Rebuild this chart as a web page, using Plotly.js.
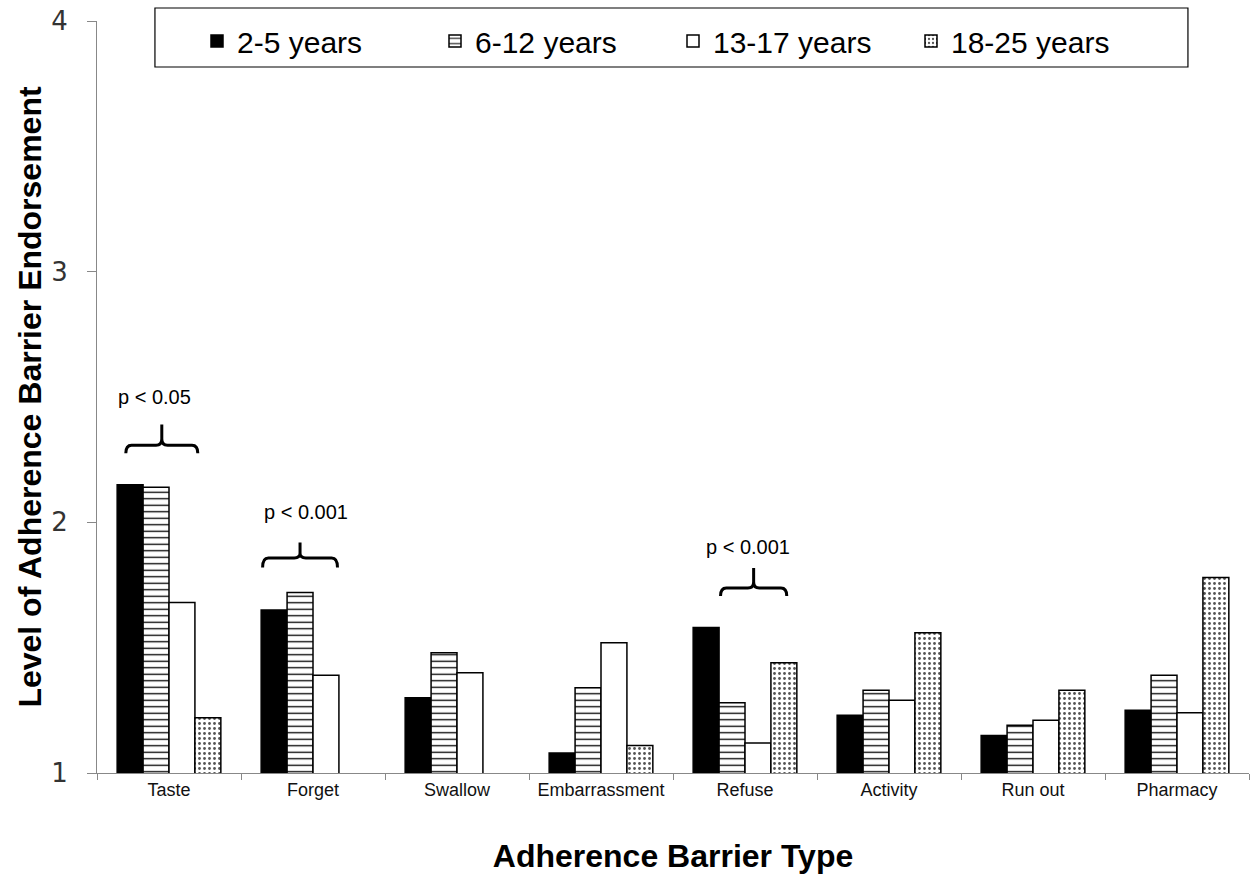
<!DOCTYPE html>
<html>
<head>
<meta charset="utf-8">
<script src="https://cdn.plot.ly/plotly-3.0.1.min.js"></script>
<style>html,body{margin:0;padding:0;background:#fff;}#chart{width:1258px;height:878px;}</style>
</head>
<body>
<div id="chart"></div>
<script>
const categories = ["Taste", "Forget", "Swallow", "Embarrassment", "Refuse", "Activity", "Run out", "Pharmacy"];
const seriesNames = ["2-5 years", "6-12 years", "13-17 years", "18-25 years"];
const age2to5   = [2.15, 1.65, 1.30, 1.08, 1.58, 1.23, 1.15, 1.25];
const age6to12  = [2.14, 1.72, 1.48, 1.34, 1.28, 1.33, 1.19, 1.39];
const age13to17 = [1.68, 1.39, 1.40, 1.52, 1.12, 1.29, 1.21, 1.24];
const age18to25 = [1.22, null, null, 1.11, 1.44, 1.56, 1.33, 1.78];
const yTickVals = [1, 2, 3, 4];
const pLabels = ["p < 0.05", "p < 0.001", "p < 0.001"];

const outline = {color: "#000", width: 1.5};
const traces = [
  {name: seriesNames[0], x: categories, y: age2to5, type: "bar",
   marker: {color: "#000", line: outline}},
  {name: seriesNames[1], x: categories, y: age6to12, type: "bar",
   marker: {color: "#fff", line: outline, pattern: {shape: "-", fgcolor: "#000", bgcolor: "#fff", size: 6.5, solidity: 0.2}}},
  {name: seriesNames[2], x: categories, y: age13to17, type: "bar",
   marker: {color: "#fff", line: outline}},
  {name: seriesNames[3], x: categories, y: age18to25, type: "bar",
   marker: {color: "#fff", line: outline, pattern: {shape: ".", fgcolor: "#555", bgcolor: "#fff", size: 5, solidity: 0.25}}}
];

// bracket geometry (category offsets and data heights)
const brackets = [
  {cat: 0, xl: -0.30, xr: 0.20, ytop: 2.308, yend: 2.276, yspike: 2.39, ytext: 2.50, xt: -0.10},
  {cat: 1, xl: -0.35, xr: 0.17, ytop: 1.858, yend: 1.82, yspike: 1.92, ytext: 2.04, xt: -0.05},
  {cat: 4, xl: -0.17, xr: 0.29, ytop: 1.738, yend: 1.706, yspike: 1.818, ytext: 1.90, xt: 0.02}
];
const shapes = [];
const annotations = [];
brackets.forEach((b, i) => {
  const L = b.cat + b.xl, R = b.cat + b.xr, C = (L + R) / 2;
  const dx = 0.04, h = (b.yspike - b.ytop) * 0.3;
  const path = `M${L},${b.yend} Q${L},${b.ytop} ${L+dx},${b.ytop} L${C-dx},${b.ytop} Q${C},${b.ytop} ${C},${b.ytop+h} L${C},${b.yspike} ` +
               `M${R},${b.yend} Q${R},${b.ytop} ${R-dx},${b.ytop} L${C+dx},${b.ytop} Q${C},${b.ytop} ${C},${b.ytop+h}`;
  shapes.push({type: "path", xref: "x", yref: "y", path: path, line: {color: "#000", width: 3}});
  annotations.push({xref: "x", yref: "y", x: b.cat + b.xt, y: b.ytext, text: pLabels[i], showarrow: false,
    font: {family: "Liberation Sans, Arial, sans-serif", size: 20, color: "#000"}});
});
// legend box
shapes.push({type: "rect", xref: "paper", yref: "paper", x0: 0.0503, x1: 0.947, y0: 0.9388, y1: 1.0173,
  line: {color: "#000", width: 1.2}, fillcolor: "rgba(0,0,0,0)", layer: "above"});

const layout = {
  width: 1258, height: 878,
  margin: {l: 97, r: 9, t: 21, b: 105},
  paper_bgcolor: "#fff", plot_bgcolor: "#fff",
  barmode: "group", bargap: 0.28, bargroupgap: 0,
  font: {family: "Liberation Sans, Arial, sans-serif", color: "#000"},
  showlegend: true,
  legend: {orientation: "h", x: 0.5, xanchor: "center", y: 1.008, yanchor: "top",
    font: {family: "Liberation Sans, Arial, sans-serif", size: 30, color: "#000"},
    bgcolor: "rgba(0,0,0,0)", borderwidth: 0, traceorder: "normal", itemwidth: 30,
    entrywidth: 193},
  xaxis: {type: "category", showline: true, linecolor: "#888", linewidth: 1,
    ticks: "outside", tickson: "boundaries", ticklen: 6, tickcolor: "#888",
    tickfont: {family: "Liberation Sans, Arial, sans-serif", size: 18, color: "#111"},
    title: {text: "Adherence Barrier Type", standoff: 46,
      font: {family: "Liberation Sans, Arial, sans-serif", size: 32, color: "#000", weight: "bold"}},
    showgrid: false, zeroline: false},
  yaxis: {range: [1, 4], tickvals: yTickVals, showline: true, linecolor: "#888", linewidth: 1,
    ticks: "outside", ticklen: 9, tickcolor: "#888",
    tickfont: {family: "DejaVu Sans, sans-serif", size: 26, color: "#333"},
    ticklabelstandoff: 14,
    title: {text: "Level of Adherence Barrier Endorsement", standoff: 0,
      font: {family: "Liberation Sans, Arial, sans-serif", size: 32, color: "#000", weight: "bold"}},
    showgrid: false, zeroline: false},
  shapes: shapes,
  annotations: annotations
};

Plotly.newPlot("chart", traces, layout, {displayModeBar: false, staticPlot: true});
</script>
</body>
</html>
